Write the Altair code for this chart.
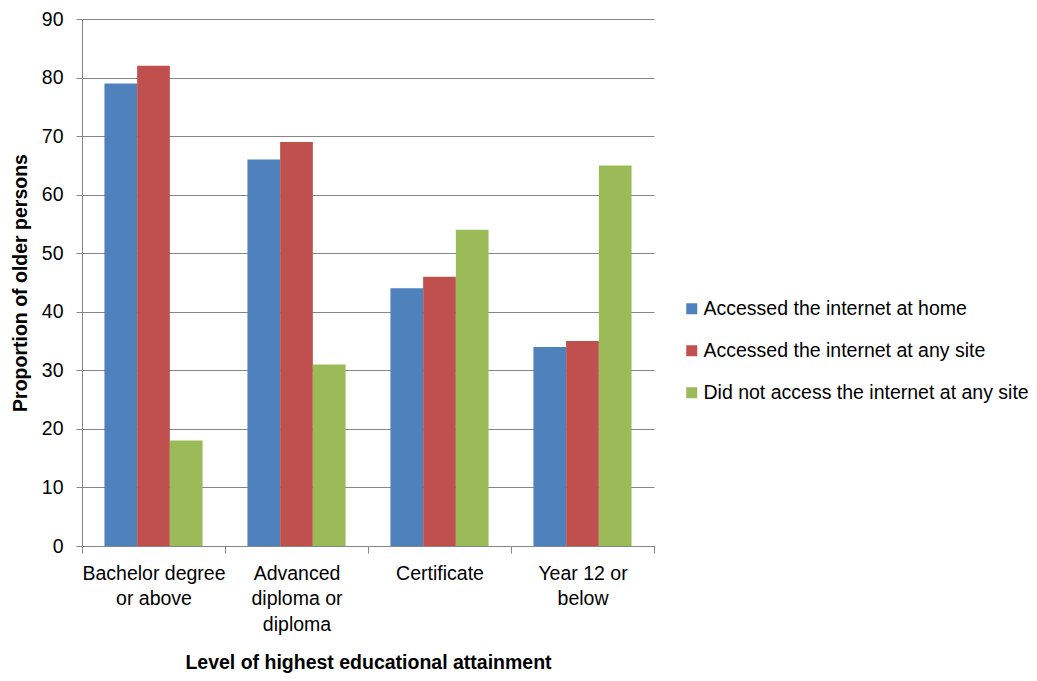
import altair as alt
import pandas as pd

# Level of highest educational attainment (x categories); "|" marks a line break
categories = [
    "Bachelor degree|or above",
    "Advanced|diploma or|diploma",
    "Certificate",
    "Year 12 or|below",
]
series = [
    "Accessed the internet at home",
    "Accessed the internet at any site",
    "Did not access the internet at any site",
]
colors = ["#4F81BD", "#C0504D", "#9BBB59"]

home = [79, 66, 44, 34]
any_site = [82, 69, 46, 35]
no_access = [18, 31, 54, 65]

rows = []
for name, vals in zip(series, [home, any_site, no_access]):
    for cat, v in zip(categories, vals):
        rows.append({"level": cat, "series": name, "value": v})
df = pd.DataFrame(rows)

FONT = "Liberation Sans, Arial, sans-serif"
GRID = "#868686"
FS = 19.5

chart = (
    alt.Chart(df)
    .mark_bar()
    .encode(
        x=alt.X(
            "level:N",
            sort=categories,
            scale=alt.Scale(paddingInner=0, paddingOuter=0),
            axis=alt.Axis(
                title="Level of highest educational attainment",
                labelExpr="split(datum.label, '|')",
                labelAngle=0,
                tickBand="extent",
                tickSize=7,
                labelPadding=11,
                labelLineHeight=25.5,
                titleX=286,
                titleY=116,
                titleBaseline="middle",
                titleAlign="center",
            ),
        ),
        xOffset=alt.XOffset(
            "series:N",
            sort=series,
            scale=alt.Scale(paddingInner=0, paddingOuter=0.686),
        ),
        y=alt.Y(
            "value:Q",
            scale=alt.Scale(domain=[0, 90], nice=False),
            axis=alt.Axis(
                title="Proportion of older persons",
                values=list(range(0, 91, 10)),
                tickSize=6,
                labelPadding=13,
                grid=True,
                titleX=-62,
                titleY=263.5,
                titleAngle=-90,
                titleBaseline="middle",
                titleAlign="center",
            ),
        ),
        color=alt.Color(
            "series:N",
            sort=series,
            scale=alt.Scale(domain=series, range=colors),
            legend=alt.Legend(
                title=None,
                orient="none",
                legendX=600,
                legendY=280,
                symbolType="square",
                symbolSize=121,
                symbolStrokeWidth=0,
                labelOffset=2,
                rowPadding=21,
            ),
        ),
    )
    .properties(
        width=572,
        height=527,
        autosize=alt.AutoSizeParams(type="none"),
        padding={"left": 82, "top": 19, "right": 383, "bottom": 135},
        background="white",
    )
    .configure_view(stroke=None)
    .configure_axis(
        labelFont=FONT,
        labelFontSize=FS,
        labelColor="#000000",
        titleFont=FONT,
        titleFontSize=FS,
        titleFontWeight="bold",
        titleColor="#000000",
        domainColor=GRID,
        tickColor=GRID,
        gridColor=GRID,
        gridWidth=1,
        domainWidth=1,
    )
    .configure_legend(
        labelFont=FONT,
        labelFontSize=FS,
        labelColor="#000000",
        labelLimit=400,
    )
)

chart.save("out.html", embed_options={"renderer": "svg", "actions": False})
